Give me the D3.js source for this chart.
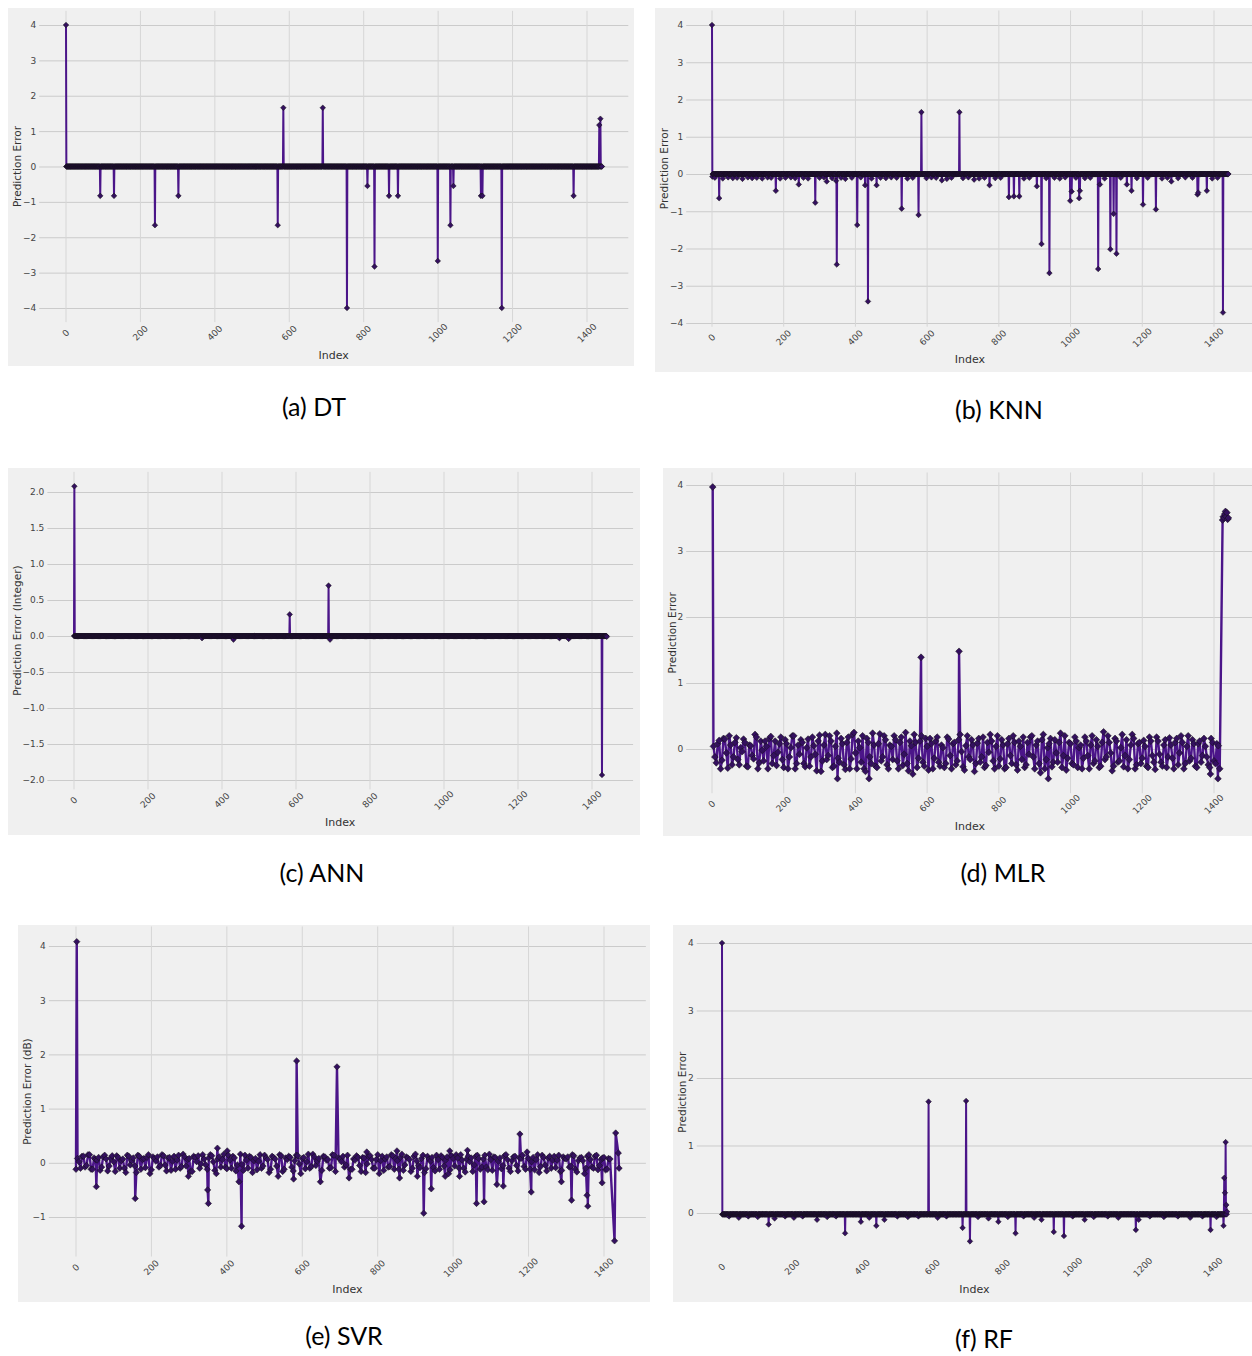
<!DOCTYPE html>
<html>
<head>
<meta charset="utf-8">
<script src="https://cdn.jsdelivr.net/npm/d3@7"></script>
<style>
  body { margin: 0; background: #fff; }
</style>
</head>
<body>
<svg id="fig" width="1252" height="1356"></svg>
<script>
// number of test samples (index 0 .. 1440)
const N = 1441;

// (a) DT: zero everywhere except these [index, error]
const dtSpikes = [[0,4.0],[92,-0.83],[129,-0.83],[239,-1.66],[302,-0.83],[569,-1.66],[584,1.66],[690,1.66],
  [755,-4.0],[810,-0.55],[829,-2.83],[868,-0.83],[892,-0.83],[999,-2.67],[1033,-1.66],[1041,-0.55],
  [1115,-0.83],[1119,-0.83],[1171,-4.0],[1364,-0.83],[1433,1.17],[1436,1.35]];

// (b) KNN
const knnSpikes = [[0,4.0],[1,-0.07],[20,-0.65],[178,-0.45],[242,-0.28],[288,-0.77],[320,-0.2],[346,-0.18],
  [348,-2.43],[405,-1.37],[427,-0.3],[435,-3.42],[459,-0.3],[529,-0.93],[576,-1.1],[584,1.66],[641,-0.17],
  [690,1.66],[731,-0.15],[774,-0.3],[828,-0.62],[842,-0.6],[857,-0.6],[906,-0.33],[919,-1.88],[941,-2.66],
  [999,-0.72],[1003,-0.47],[1024,-0.65],[1026,-0.45],[1077,-2.55],[1082,-0.28],[1111,-2.02],[1120,-1.07],
  [1128,-2.14],[1157,-0.28],[1170,-0.45],[1202,-0.82],[1238,-0.95],[1281,-0.2],[1354,-0.55],[1356,-0.5],
  [1380,-0.45],[1425,-3.72]];
const knnDips = [[8,-0.1],[30,-0.12],[45,-0.09],[58,-0.11],[70,-0.1],[85,-0.13],[100,-0.09],[112,-0.11],
  [125,-0.1],[140,-0.12],[155,-0.09],[165,-0.1],[190,-0.12],[205,-0.1],[220,-0.09],[232,-0.11],[255,-0.1],
  [268,-0.12],[300,-0.1],[312,-0.09],[335,-0.11],[360,-0.1],[372,-0.13],[390,-0.1],[415,-0.09],[445,-0.12],
  [470,-0.1],[485,-0.11],[500,-0.09],[515,-0.1],[545,-0.12],[560,-0.1],[598,-0.11],[612,-0.09],[625,-0.1],
  [655,-0.13],[668,-0.1],[700,-0.11],[715,-0.09],[745,-0.12],[760,-0.1],[790,-0.11],[805,-0.1],[870,-0.12],
  [885,-0.1],[932,-0.11],[955,-0.1],[970,-0.12],[985,-0.09],[1015,-0.1],[1040,-0.11],[1055,-0.1],[1095,-0.12],
  [1140,-0.1],[1185,-0.11],[1215,-0.1],[1255,-0.12],[1270,-0.1],[1300,-0.11],[1320,-0.09],[1340,-0.1],
  [1395,-0.12],[1410,-0.1]];

// (c) ANN
const annSpikes = [[1,2.08],[346,-0.03],[431,-0.05],[583,0.3],[688,0.7],[692,-0.05],[1312,-0.03],
  [1337,-0.04],[1427,-1.93],[1440,-0.01]];

// (d) MLR: band read at indices 4, 12, 20 ... and 8, 16, 24 ..., plus the outliers
const mlrNoise = [
  0.04,-0.21,0.13,-0.17,0.15,-0.29,0.06,-0.12,0.17,-0.24,
  -0.04,0.1,-0.27,0.05,-0.15,0.18,-0.21,-0.02,0.12,-0.3,
  0.19,-0.1,-0.25,0.08,-0.16,0.14,-0.3,0.02,0.2,-0.22,
  -0.08,0.1,-0.27,0.15,-0.12,0.05,-0.33,0.21,-0.18,0.22,
  -0.1,0.12,-0.26,0.24,-0.2,0.08,-0.31,0.18,-0.15,0.25,
  -0.3,0.02,0.2,-0.34,0.1,-0.22,0.06,-0.28,0.23,-0.12,
  0.14,-0.3,0.04,0.2,-0.18,0.1,-0.25,0.25,-0.33,0.05,
  0.22,-0.28,0.12,-0.2,0.16,-0.32,0.08,-0.14,0.18,-0.26,
  0.02,-0.22,0.15,-0.3,0.1,-0.18,0.22,-0.27,0.05,-0.12,
  0.14,-0.34,0.09,-0.2,0.18,-0.25,-0.05,0.12,-0.3,0.2,
  -0.15,0.06,-0.28,0.16,-0.22,0.1,-0.32,0.04,0.18,-0.24,
  -0.08,0.2,-0.3,0.12,-0.36,0.22,-0.16,0.08,-0.27,0.14,
  -0.2,0.24,-0.1,-0.32,0.1,-0.22,0.18,-0.28,0.06,-0.14,
  0.12,-0.3,0.2,-0.18,0.04,-0.26,0.26,-0.12,0.1,-0.33,
  0.16,-0.2,0.02,-0.27,0.14,-0.16,0.22,-0.3,0.08,-0.22,
  0.13,-0.26,0.18,-0.1,-0.31,0.12,-0.2,0.06,-0.28,0.17,
  -0.14,0.1,-0.24,0.2,-0.3,0.04,-0.18,0.14,-0.26,0.08,
  -0.2,0.16,-0.12,-0.28,0.1,-0.22,0.05];
const mlrNoise2 = [
  -0.12,0.08,-0.3,0.16,-0.06,0.2,-0.24,0.1,-0.16,0.02,
  0.15,-0.26,0.06,-0.1,0.22,-0.3,0.12,-0.18,0.04,0.16,
  -0.22,0.12,-0.05,0.18,-0.28,0.08,-0.12,0.2,-0.3,0.06,
  0.14,-0.22,0.02,-0.26,0.18,-0.08,0.12,-0.34,0.06,-0.16,
  0.2,-0.28,0.04,-0.14,0.16,-0.24,0.1,-0.3,0.22,-0.06,
  0.12,-0.2,-0.3,0.16,-0.12,0.24,-0.26,0.08,-0.18,0.2,
  -0.24,0.06,-0.16,0.14,-0.3,0.18,-0.08,-0.22,0.12,-0.34,
  0.1,-0.14,0.2,-0.26,0.04,0.16,-0.3,0.12,-0.2,0.06,
  -0.28,0.18,-0.1,0.08,-0.24,0.14,-0.04,-0.32,0.2,-0.16,
  0.06,-0.22,0.16,-0.12,-0.28,0.1,0.22,-0.18,0.04,-0.26,
  0.14,-0.3,0.08,-0.1,0.2,-0.24,0.12,-0.16,-0.28,0.1,
  0.18,-0.12,0.06,-0.22,0.14,-0.3,0.02,0.16,-0.2,-0.06,
  0.1,-0.28,0.2,-0.14,0.08,-0.24,0.12,0.02,-0.3,0.18,
  -0.1,0.06,-0.22,0.14,-0.28,0.1,-0.16,0.2,-0.06,-0.26,
  0.12,-0.18,0.22,-0.1,-0.3,0.06,0.16,-0.24,0.1,-0.14,
  0.04,-0.28,0.12,-0.2,0.18,-0.08,-0.26,0.14,-0.12,0.06,
  -0.3,0.16,-0.06,0.1,-0.22,0.2,-0.14,0.08,-0.28,0.12,
  -0.1,0.04,-0.24,0.16,-0.18,0.08,-0.3];
const mlrSpikes = [[2,3.97],[350,-0.45],[438,-0.45],[560,-0.38],[583,1.39],[689,1.48],[938,-0.45],
  [1390,-0.38],[1411,-0.45],[1424,3.47],[1426,3.52],[1428,3.5],[1430,3.56],[1432,3.6],[1434,3.52],
  [1436,3.58],[1438,3.48],[1440,3.5]];

// (e) SVR
const svrNoise = [
  0.08,-0.1,0.12,-0.05,0.15,-0.12,0.06,0.1,-0.08,0.14,
  -0.15,0.09,0.02,0.13,-0.1,0.07,-0.18,0.12,0.04,-0.06,
  0.14,-0.12,0.08,0.1,-0.2,0.11,0.03,-0.08,0.15,-0.04,
  0.09,-0.14,0.12,0.05,-0.1,0.16,-0.06,0.08,-0.16,0.1,
  0.13,-0.02,0.07,-0.12,0.15,0.02,-0.2,0.11,0.06,-0.08,
  0.14,-0.1,0.09,-0.04,0.16,-0.14,0.05,0.12,-0.18,0.08,
  0.03,-0.1,0.14,0.06,-0.12,0.1,-0.06,0.15,-0.16,0.09,
  0.12,-0.08,0.04,0.13,-0.2,0.1,0.02,-0.1,0.16,-0.05,
  0.08,-0.14,0.11,0.06,-0.09,0.14,-0.18,0.07,0.12,-0.04,
  0.15,-0.12,0.05,0.1,-0.16,0.09,-0.02,0.13,-0.1,0.06,
  -0.2,0.12,0.07,-0.08,0.15,-0.12,0.04,0.1,-0.14,0.11,
  0.06,-0.1,0.16,-0.05,0.08,-0.18,0.12,0.03,-0.09,0.14,
  -0.12,0.1,0.05,-0.2,0.13,-0.06,0.09,0.15,-0.1,0.07,
  0.02,-0.16,0.12,0.08,-0.08,0.14,-0.13,0.06,0.11,-0.19,
  0.09,-0.05,0.15,-0.1,0.04,0.12,-0.15,0.08,-0.07,0.13,
  -0.12,0.1,0.06,-0.18,0.14,-0.04,0.09,-0.1,0.12,0.05,
  -0.16,0.11,0.07,-0.08,0.15,-0.12,0.04,0.1,-0.2,0.12,
  0.06,-0.1,0.14,-0.05,0.09,-0.13,0.08];
const svrNoise2 = [
  0.02,0.12,-0.08,0.15,-0.12,0.09,0.05,-0.14,0.11,0.07,
  -0.06,0.13,-0.16,0.1,0.04,-0.1,0.14,-0.04,0.09,-0.18,
  0.12,0.06,-0.09,0.15,-0.13,0.08,0.11,-0.05,0.13,-0.15,
  0.1,0.03,-0.12,0.14,-0.07,0.11,0.06,-0.16,0.12,0.02,
  -0.1,0.15,-0.04,0.09,0.13,-0.14,0.07,-0.08,0.16,-0.11,
  0.05,0.12,-0.15,0.08,-0.03,0.14,-0.1,0.1,0.04,-0.13,
  0.15,-0.06,0.09,-0.18,0.12,0.07,-0.09,0.13,-0.12,0.06,
  0.1,-0.15,0.14,-0.02,0.08,-0.11,0.16,-0.07,0.11,0.03,
  -0.13,0.12,0.05,-0.1,0.15,-0.16,0.09,0.02,-0.08,0.14,
  -0.12,0.07,0.13,-0.05,0.1,-0.18,0.12,0.06,-0.1,0.15,
  0.04,-0.14,0.11,-0.07,0.13,0.08,-0.12,0.16,-0.04,0.09,
  -0.16,0.12,0.03,-0.09,0.14,-0.11,0.07,0.1,-0.15,0.06,
  0.13,-0.06,0.11,-0.13,0.08,0.15,-0.1,0.05,-0.17,0.12,
  0.09,-0.04,0.14,-0.12,0.07,-0.08,0.16,-0.14,0.1,0.03,
  -0.11,0.13,0.06,-0.16,0.11,-0.05,0.09,0.14,-0.12,0.08,
  0.02,-0.13,0.15,-0.07,0.1,-0.15,0.12,0.05,-0.09,0.14,
  -0.14,0.08,0.11,-0.06,0.13,-0.17,0.09,0.04,-0.1,0.15,
  -0.08,0.12,-0.13,0.06,0.1,-0.12,0.07];
const svrSpikes = [[0,-0.12],[2,4.08],[54,-0.44],[157,-0.66],[298,-0.25],[349,-0.5],[351,-0.75],[375,0.27],
  [401,0.22],[432,-0.35],[439,-1.17],[536,-0.25],[577,-0.3],[585,1.88],[648,-0.35],[692,1.77],[724,-0.28],
  [771,0.2],[851,0.22],[858,-0.28],[905,-0.25],[922,-0.93],[942,-0.48],[979,-0.25],[991,0.22],[1017,-0.25],
  [1038,0.23],[1062,-0.75],[1082,-0.72],[1116,-0.4],[1133,-0.43],[1177,0.53],[1196,0.2],[1207,-0.54],
  [1287,-0.35],[1314,-0.69],[1355,-0.6],[1357,-0.8],[1395,-0.37],[1428,-1.44],[1431,0.55],[1438,0.18],
  [1440,-0.1]];

// (f) RF
const rfSpikes = [[0,4.0],[133,-0.17],[150,-0.08],[271,-0.1],[351,-0.3],[396,-0.13],[440,-0.19],[463,-0.1],
  [589,1.65],[686,-0.22],[696,1.66],[707,-0.42],[788,-0.13],[837,-0.3],[911,-0.1],[946,-0.28],[975,-0.34],
  [1034,-0.1],[1180,-0.25],[1188,-0.1],[1393,-0.25],[1430,-0.19],[1432,0.52],[1434,0.3],[1436,1.05],
  [1438,0.12],[1440,0.02]];
const rfDips = [[20,-0.05],[48,-0.07],[75,-0.05],[102,-0.06],[180,-0.05],[205,-0.07],[230,-0.05],[300,-0.06],
  [325,-0.05],[420,-0.07],[500,-0.05],[530,-0.06],[560,-0.05],[615,-0.07],[640,-0.05],[730,-0.06],[760,-0.08],
  [815,-0.06],[860,-0.05],[890,-0.07],[1000,-0.05],[1060,-0.06],[1100,-0.05],[1130,-0.07],[1220,-0.05],
  [1260,-0.06],[1300,-0.05],[1335,-0.07],[1370,-0.05],[1410,-0.06]];

const xTicks = [0, 200, 400, 600, 800, 1000, 1200, 1400];
const FONT = '"DejaVu Sans", sans-serif';

function buildSeries(base, noise, noise2, spikes, extra) {
  const m = new Map();
  if (noise) {
    noise.forEach((v, k) => m.set(4 + k * 8, v));
    noise2.forEach((v, k) => m.set(8 + k * 8, v));
  } else {
    d3.range(N).forEach(i => m.set(i, base));
  }
  (extra || []).forEach(([i, v]) => m.set(i, v));
  spikes.forEach(([i, v]) => m.set(i, v));
  return Array.from(m, ([i, v]) => ({i, v})).sort((a, b) => a.i - b.i);
}

const panels = [
  {cap: '(a) DT', bg: [8, 8, 634, 366], xPix: [66, 587], yRef: [[4, 25], [-4, 308]], yDom: [-4.4, 4.4],
   yTicks: d3.range(-4, 5), fmt: d3.format('d'), ylabel: 'Prediction Error', capPos: [314, 416], vgrid: true,
   mk: 2.8, lw: 2, data: buildSeries(0, null, null, dtSpikes)},
  {cap: '(b) KNN', bg: [655, 8, 1252, 372], xPix: [712, 1214], yRef: [[4, 25], [-4, 323]], yDom: [-4.1, 4.39],
   yTicks: d3.range(-4, 5), fmt: d3.format('d'), ylabel: 'Prediction Error', capPos: [999, 419], vgrid: true,
   mk: 2.8, lw: 2, data: buildSeries(0, null, null, knnSpikes, knnDips)},
  {cap: '(c) ANN', bg: [8, 468, 640, 835], xPix: [74, 592], yRef: [[2, 492], [-2, 780]], yDom: [-2.13, 2.28],
   yTicks: d3.range(-2, 2.01, 0.5), fmt: d3.format('.1f'), ylabel: 'Prediction Error (Integer)', capPos: [322, 882], vgrid: true,
   mk: 2.8, lw: 2, data: buildSeries(0, null, null, annSpikes)},
  {cap: '(d) MLR', bg: [663, 468, 1252, 836], xPix: [712, 1214], yRef: [[4, 485], [0, 749]], yDom: [-0.67, 4.19],
   yTicks: d3.range(0, 5), fmt: d3.format('d'), ylabel: 'Prediction Error', capPos: [1003, 882], vgrid: true,
   mk: 3.4, lw: 2.4, data: buildSeries(0, mlrNoise, mlrNoise2, mlrSpikes)},
  {cap: '(e) SVR', bg: [18, 925, 650, 1302], xPix: [76, 604], yRef: [[4, 946], [-1, 1217]], yDom: [-1.73, 4.36],
   yTicks: d3.range(-1, 5), fmt: d3.format('d'), ylabel: 'Prediction Error (dB)', capPos: [344, 1345], vgrid: true,
   mk: 3.2, lw: 2.4, data: buildSeries(0, svrNoise, svrNoise2, svrSpikes)},
  {cap: '(f) RF', bg: [673, 925, 1252, 1302], xPix: [722, 1213], yRef: [[4, 943], [0, 1213]], yDom: [-0.64, 4.22],
   yTicks: d3.range(0, 5), fmt: d3.format('d'), ylabel: 'Prediction Error', capPos: [984, 1348], vgrid: false,
   mk: 2.8, lw: 2, data: buildSeries(-0.02, null, null, rfSpikes, rfDips)}
];

const svg = d3.select('#fig');

panels.forEach(p => {
  const g = svg.append('g');
  const x = d3.scaleLinear().domain([0, 1400]).range(p.xPix);
  const y = d3.scaleLinear().domain([p.yRef[0][0], p.yRef[1][0]]).range([p.yRef[0][1], p.yRef[1][1]]);
  const left = x(-72), right = x(1511);
  const top = y(p.yDom[1]), bottom = y(p.yDom[0]);
  const diamond = `M0,${-p.mk}L${p.mk},0L0,${p.mk}L${-p.mk},0Z`;

  g.append('rect')
    .attr('x', p.bg[0]).attr('y', p.bg[1])
    .attr('width', p.bg[2] - p.bg[0]).attr('height', p.bg[3] - p.bg[1])
    .attr('fill', '#f0f0f0');

  // horizontal grid + y tick labels
  const ya = g.append('g').attr('transform', `translate(${left},0)`)
    .call(d3.axisLeft(y).tickValues(p.yTicks).tickFormat(p.fmt).tickSize(-(right - left)).tickPadding(3));
  ya.select('.domain').remove();
  ya.selectAll('line').attr('stroke', '#cbcbcb').attr('stroke-width', 1);
  ya.selectAll('text').attr('fill', '#444').style('font-family', FONT).style('font-size', '9px');

  // vertical grid
  if (p.vgrid) {
    g.append('g').selectAll('line').data(xTicks).join('line')
      .attr('x1', d => x(d)).attr('x2', d => x(d))
      .attr('y1', top).attr('y2', bottom)
      .attr('stroke', '#d6d6d6').attr('stroke-width', 1);
  }
  g.append('g').selectAll('text').data(xTicks).join('text')
    .attr('transform', d => `translate(${x(d)},${bottom + 11}) rotate(-45)`)
    .attr('text-anchor', 'middle').attr('dominant-baseline', 'central')
    .attr('fill', '#444').style('font-family', FONT).style('font-size', '9px')
    .text(d => d);

  g.append('text')
    .attr('x', (left + right) / 2).attr('y', bottom + 33)
    .attr('text-anchor', 'middle').attr('dominant-baseline', 'central')
    .attr('fill', '#333').style('font-family', FONT).style('font-size', '11px')
    .text('Index');

  g.append('text')
    .attr('transform', `translate(${p.bg[0] + 9},${(top + bottom) / 2}) rotate(-90)`)
    .attr('text-anchor', 'middle').attr('dominant-baseline', 'central')
    .attr('fill', '#333').style('font-family', FONT).style('font-size', '10.5px')
    .text(p.ylabel);

  // series: line then diamond markers
  const line = d3.line().x(d => x(d.i)).y(d => y(d.v));
  g.append('path').datum(p.data)
    .attr('d', line)
    .attr('fill', 'none').attr('stroke', '#4b1589').attr('stroke-width', p.lw)
    .attr('stroke-linejoin', 'round');
  g.append('g').selectAll('path').data(p.data).join('path')
    .attr('d', diamond)
    .attr('transform', d => `translate(${x(d.i)},${y(d.v)})`)
    .attr('fill', '#34105f').attr('stroke', '#111').attr('stroke-width', 0.5);

  svg.append('text')
    .attr('x', p.capPos[0]).attr('y', p.capPos[1])
    .attr('text-anchor', 'middle')
    .attr('fill', '#000').style('font-family', 'Lato, "Open Sans", sans-serif').style('font-size', '25px')
    .text(p.cap);
});
</script>
</body>
</html>
